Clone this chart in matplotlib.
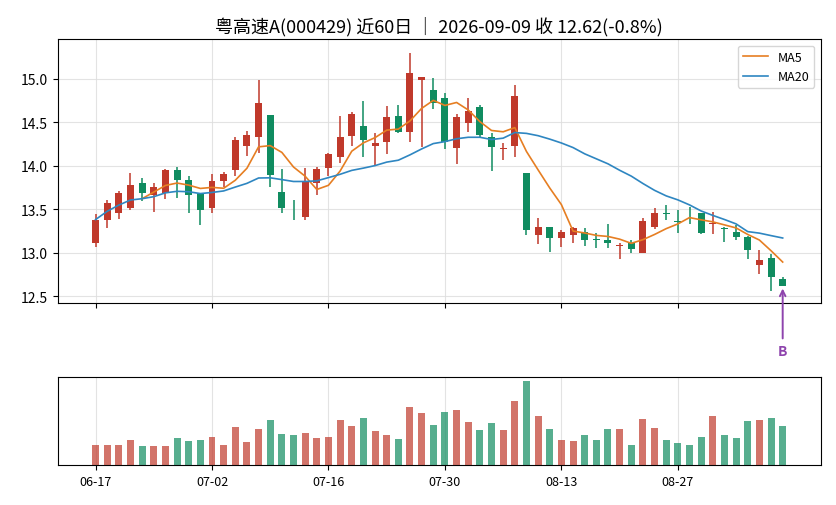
import numpy as np
import pandas as pd
import matplotlib
matplotlib.use("Agg")
import matplotlib.pyplot as plt

plt.rcParams['font.family'] = ['Noto Sans CJK SC', 'DejaVu Sans']
plt.rcParams['axes.unicode_minus'] = False

# daily bars, 60 trading days
opens = [13.11, 13.38, 13.45, 13.51, 13.80, 13.66, 13.68, 13.95, 13.83, 13.68,
         13.51, 13.82, 13.95, 14.22, 14.33, 14.58, 13.70, 13.46, 13.41, 13.80,
         13.97, 14.10, 14.34, 14.46, 14.23, 14.27, 14.57, 14.39, 14.99, 14.87,
         14.78, 14.20, 14.49, 14.67, 14.33, 14.19, 14.23, 13.91, 13.20, 13.29,
         13.17, 13.20, 13.24, 13.155, 13.14, 13.08, 13.11, 13.00, 13.29, 13.45,
         13.36, 13.41, 13.45, 13.33, 13.275, 13.24, 13.18, 12.86, 12.94, 12.70]
highs = [13.44, 13.60, 13.71, 13.92, 13.86, 13.80, 13.96, 13.99, 13.88, 13.68,
         13.90, 13.93, 14.33, 14.40, 14.98, 14.58, 13.96, 13.60, 13.97, 13.99,
         14.15, 14.57, 14.62, 14.74, 14.38, 14.68, 14.70, 15.30, 15.02, 15.01,
         14.84, 14.59, 14.78, 14.70, 14.38, 14.26, 14.93, 13.91, 13.40, 13.29,
         13.26, 13.29, 13.28, 13.23, 13.33, 13.11, 13.14, 13.40, 13.51, 13.55,
         13.485, 13.52, 13.45, 13.47, 13.29, 13.32, 13.19, 13.03, 12.985, 12.72]
lows = [13.07, 13.28, 13.39, 13.49, 13.59, 13.47, 13.62, 13.63, 13.45, 13.32,
        13.45, 13.76, 13.88, 14.11, 14.15, 13.76, 13.45, 13.37, 13.37, 13.66,
        13.88, 14.03, 14.22, 14.10, 14.00, 14.13, 14.38, 14.27, 14.21, 14.65,
        14.19, 14.02, 14.39, 14.33, 13.94, 14.07, 14.10, 13.20, 13.10, 13.01,
        13.07, 13.11, 13.08, 13.05, 13.05, 12.93, 13.00, 13.00, 13.27, 13.37,
        13.225, 13.33, 13.21, 13.21, 13.12, 13.14, 12.93, 12.75, 12.56, 12.62]
closes = [13.38, 13.57, 13.69, 13.78, 13.68, 13.76, 13.95, 13.83, 13.66, 13.49,
          13.82, 13.90, 14.29, 14.35, 14.72, 13.89, 13.51, 13.45, 13.82, 13.96,
          14.13, 14.33, 14.59, 14.30, 14.26, 14.56, 14.39, 15.06, 15.02, 14.72,
          14.27, 14.56, 14.63, 14.35, 14.21, 14.195, 14.80, 13.26, 13.29, 13.17,
          13.24, 13.28, 13.15, 13.15, 13.11, 13.085, 13.04, 13.36, 13.45, 13.445,
          13.355, 13.405, 13.23, 13.335, 13.27, 13.18, 13.03, 12.91, 12.72, 12.62]
volumes = [60, 60, 60, 75, 57, 57, 57, 81, 72, 75,
           84, 60, 114, 69, 108, 135, 93, 90, 96, 81,
           84, 135, 117, 141, 102, 90, 78, 174, 156, 120,
           159, 165, 129, 105, 126, 105, 192, 252, 147, 108,
           75, 72, 90, 75, 108, 108, 60, 138, 111, 75,
           66, 60, 84, 147, 90, 81, 132, 135, 141, 117]
tick_labels = ['06-17', '07-02', '07-16', '07-30', '08-13', '08-27']

title = '粤高速A(000429) 近60日 ｜ 2026-09-09 收 12.62(-0.8%)'

df = pd.DataFrame({'open': opens, 'high': highs, 'low': lows,
                   'close': closes, 'vol': volumes})
df['ma5'] = df['close'].rolling(5).mean()
df['ma20'] = df['close'].rolling(20, min_periods=1).mean()
x = np.arange(len(df))

up_c = '#c0392b'
dn_c = '#108c60'
up = df['close'] >= df['open']
colors = np.where(up, up_c, dn_c)

fig = plt.figure(figsize=(8.36, 5.06), dpi=100)
ax = fig.add_axes([0.069, 0.399, 0.9125, 0.521])
axv = fig.add_axes([0.069, 0.079, 0.9125, 0.1735])

# candles
ax.vlines(x, df['low'], df['high'], colors=colors, lw=1.1, zorder=2)
body = (df['close'] - df['open']).abs().clip(lower=0.008)
ax.bar(x, body, bottom=np.minimum(df['open'], df['close']), width=0.6,
       color=colors, zorder=3)
ax.plot(x, df['ma5'], color='#e67e22', lw=1.2, label='MA5', zorder=4)
ax.plot(x, df['ma20'], color='#2e86c1', lw=1.2, label='MA20', zorder=4)

ax.set_xlim(-3.25, 62.25)
ax.set_ylim(12.42, 15.45)
ax.set_yticks([12.5, 13.0, 13.5, 14.0, 14.5, 15.0])
ax.set_xticks(x[::10])
ax.set_xticklabels([])
ax.grid(True, color='#dddddd', lw=0.8, alpha=0.8)
ax.set_axisbelow(True)
ax.tick_params(labelsize=10)
ax.legend(loc='upper right', fontsize=9)
ax.set_title(title, fontsize=13, pad=6)

last = len(df) - 1
ax.annotate('B', xy=(last, df['low'][last]), xytext=(0, -47),
            textcoords='offset points', ha='center', va='center',
            color='#8e44ad', fontsize=10, fontweight='bold',
            arrowprops=dict(arrowstyle='->', color='#8e44ad', lw=1.4),
            annotation_clip=False)

# volume
axv.bar(x, df['vol'], width=0.6, color=colors, alpha=0.7)
axv.set_xlim(-3.25, 62.25)
axv.set_ylim(0, max(volumes) * 1.045)
axv.set_yticks([])
axv.set_xticks(x[::10])
axv.set_xticklabels(tick_labels, fontsize=9)
axv.grid(True, axis='x', color='#dddddd', lw=0.8, alpha=0.8)
axv.set_axisbelow(True)

fig.savefig('out.png', dpi=100)
